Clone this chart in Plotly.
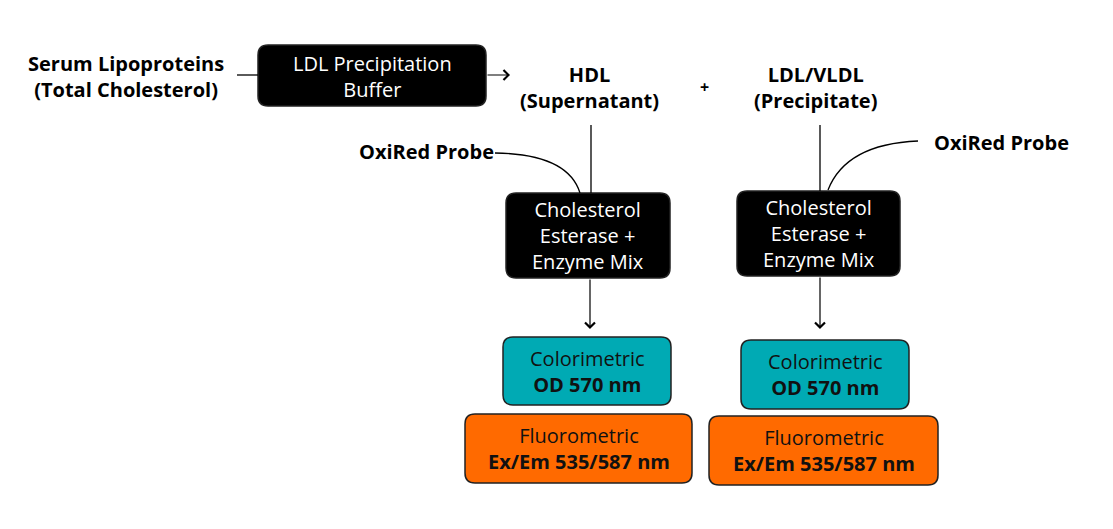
import plotly.graph_objects as go

# box labels (rich text)
buffer_label = "LDL Precipitation<br>Buffer"
enzyme_label = "Cholesterol<br>Esterase +<br>Enzyme Mix"
color_label = "Colorimetric<br><b>OD 570 nm</b>"
fluor_label = "Fluorometric<br><b>Ex/Em 535/587 nm</b>"
sample_label = "<b>Serum Lipoproteins<br>(Total Cholesterol)</b>"
hdl_label = "<b>HDL<br>(Supernatant)</b>"
ldl_label = "<b>LDL/VLDL<br>(Precipitate)</b>"
probe_label = "<b>OxiRed Probe</b>"

W, H = 1113, 529
OFF = 8  # page body margin
FONT = "Open Sans"
BLACK, TEAL, ORANGE = "#000000", "#00aab4", "#ff6a00"

fig = go.Figure()


def rbox(x0, y0, x1, y1, fill, r=10):
    path = (f"M {x0+r} {y0} L {x1-r} {y0} Q {x1} {y0} {x1} {y0+r} "
            f"L {x1} {y1-r} Q {x1} {y1} {x1-r} {y1} L {x0+r} {y1} "
            f"Q {x0} {y1} {x0} {y1-r} L {x0} {y0+r} Q {x0} {y0} {x0+r} {y0} Z")
    fig.add_shape(type="path", path=path, fillcolor=fill,
                  line=dict(color="#222", width=1.5), layer="below")


def text(x, y, s, color="black", size=20):
    fig.add_annotation(x=x, y=y, text=s, showarrow=False,
                       font=dict(family=FONT, size=size, color=color))


def line(x0, y0, x1, y1):
    fig.add_shape(type="line", x0=x0, y0=y0, x1=x1, y1=y1,
                  line=dict(color="black", width=1.3))


def arrow(x0, y0, x1, y1):
    fig.add_annotation(x=x1, y=y1, ax=x0, ay=y0, xref="x", yref="y",
                       axref="x", ayref="y", text="", showarrow=True,
                       arrowhead=4, arrowsize=1.6, arrowwidth=1.2,
                       arrowcolor="black")


# top row
text(126, 76, sample_label)
line(237, 75, 258, 75)
rbox(258, 45, 486, 106, BLACK)
text(372, 76, buffer_label, "white")
arrow(486, 75, 510, 75)
text(589, 87, hdl_label)
text(704, 87, "<b>+</b>", size=16)
text(815, 87, ldl_label)

# verticals + probes
line(591, 125, 591, 193)
line(820, 125, 820, 191)
text(426, 151, probe_label)
fig.add_shape(type="path", path="M 495 153 Q 568 154 580 193",
              line=dict(color="black", width=1.3))
text(1001, 142, probe_label)
fig.add_shape(type="path", path="M 918 141 Q 846 144 828 190",
              line=dict(color="black", width=1.3))

# enzyme boxes
for x0, y0, x1, y1 in [(506, 193, 670, 278), (737, 191, 900, 276)]:
    rbox(x0, y0, x1, y1, BLACK)
    text((x0 + x1) / 2, (y0 + y1) / 2, enzyme_label, "white")
arrow(590, 278, 590, 329)
arrow(820, 276, 820, 329)

# readouts
for x0, y0, x1, y1 in [(503, 337, 671, 405), (741, 340, 909, 409)]:
    rbox(x0, y0, x1, y1, TEAL)
    text((x0 + x1) / 2, (y0 + y1) / 2, color_label, "#111")
for x0, y0, x1, y1 in [(465, 414, 692, 483), (709, 416, 938, 485)]:
    rbox(x0, y0, x1, y1, ORANGE)
    text((x0 + x1) / 2, (y0 + y1) / 2, fluor_label, "#111")

fig.update_xaxes(range=[OFF, W + OFF], visible=False, fixedrange=True)
fig.update_yaxes(range=[H + OFF, OFF], visible=False, fixedrange=True)
fig.update_layout(width=W, height=H, margin=dict(l=0, r=0, t=0, b=0),
                  plot_bgcolor="white", paper_bgcolor="white",
                  showlegend=False, font=dict(family=FONT))

fig.write_html("out.html")
